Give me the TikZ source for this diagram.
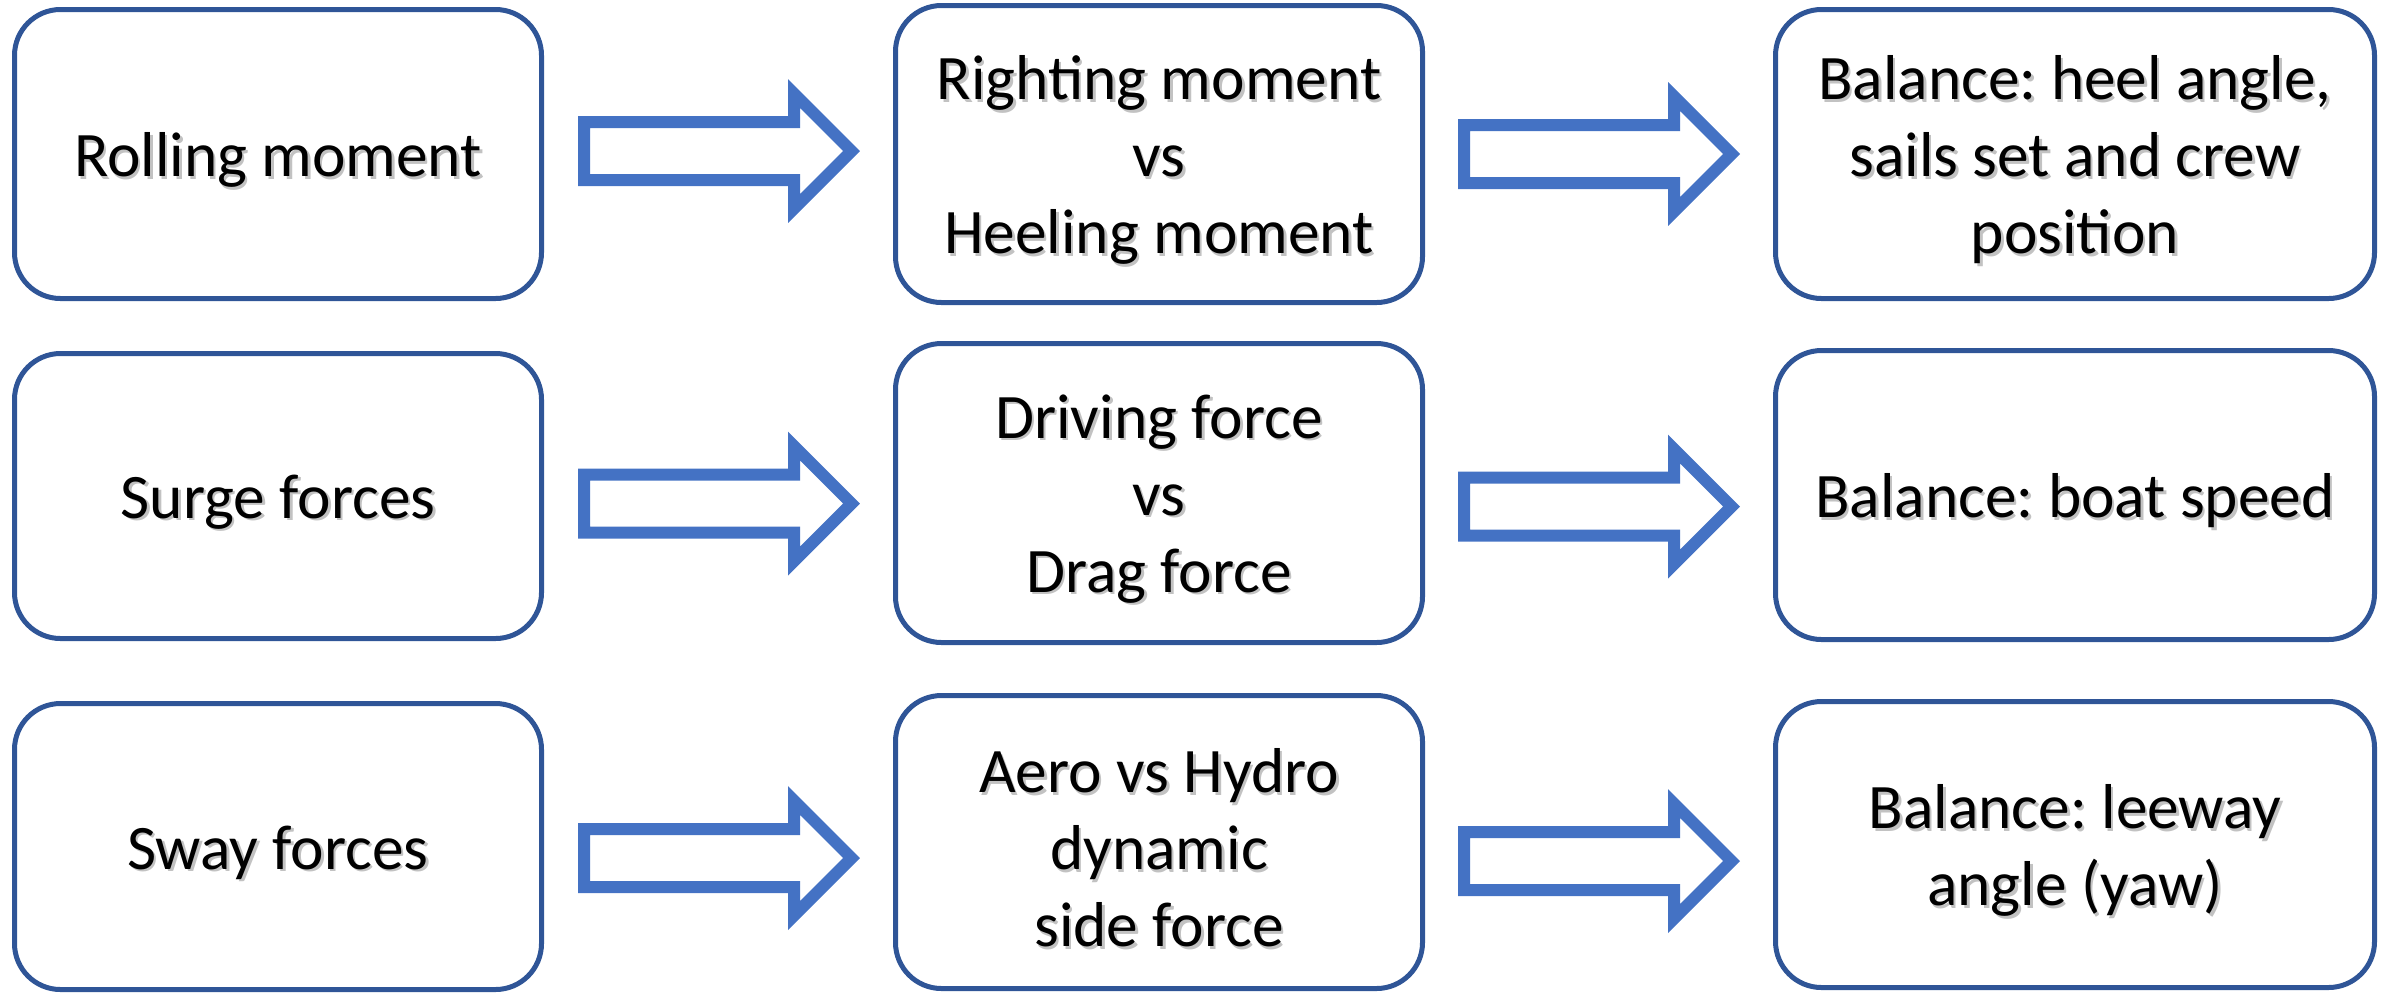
\documentclass[tikz,border=0pt]{standalone}
\usepackage{fontspec}
\setmainfont{Carlito}
\frenchspacing
\definecolor{boxblue}{HTML}{2F5597}
\definecolor{arrblue}{HTML}{4472C4}
\newcommand\boxnode[6]{%
  \node[box, minimum width=#4, minimum height=#5] (#1) at (#2,#3) {};
  \node[shad] (#1s) at (#2+2.5,#3+8.5) {#6};
  \node[boxtext] (#1t) at (#2,#3+6) {#6};}
\begin{document}
\begin{tikzpicture}[x=0.5pt,y=-0.5pt,
  boxfont/.style={font=\fontsize{31.7pt}{38.5pt}\selectfont},
  box/.style={draw=boxblue, line width=2.5pt, rounded corners=23pt, inner sep=0pt},
  boxtext/.style={align=center, text=black, inner sep=0pt, boxfont},
  shad/.style={align=center, text=black!40, text opacity=.6, inner sep=0pt, boxfont},
  arrowline/.style={draw=arrblue, line width=6pt, fill=white, line join=miter},
  fatarrow/.pic={\draw[arrowline] (-134.5,-29) -- (75.5,-29) -- (75.5,-57.5) -- (133,0) -- (75.5,57.5) -- (75.5,29) -- (-134.5,29) -- cycle;}
]
\useasboundingbox (0,0) rectangle (2391,993);
% column 1
\boxnode{b11}{278}{154}{263.5pt}{144.5pt}{Rolling moment}
\boxnode{b21}{278}{496}{263.5pt}{142.5pt}{Surge forces}
\boxnode{b31}{278}{846.5}{263.5pt}{143pt}{Sway forces}
% column 2
\boxnode{b12}{1159}{154}{263.5pt}{148.5pt}{Righting moment\\vs\\Heeling moment}
\boxnode{b22}{1159}{493}{263.5pt}{149.5pt}{Driving force\\vs\\Drag force}
\boxnode{b32}{1159}{842}{263.5pt}{146.5pt}{Aero vs Hydro\\dynamic\\side force}
% column 3
\boxnode{b13}{2075}{154}{299.5pt}{144.5pt}{Balance: heel angle,\\sails set and crew\\position}
\boxnode{b23}{2075}{495}{299.5pt}{144.5pt}{Balance: boat speed}
\boxnode{b33}{2075}{844.5}{299.5pt}{143pt}{Balance: leeway\\angle (yaw)}
% arrows
\coordinate (a11) at (718.5,151);
\coordinate (a12) at (1598.5,154);
\coordinate (a21) at (718.5,503.5);
\coordinate (a22) at (1598.5,506.5);
\coordinate (a31) at (718.5,858);
\coordinate (a32) at (1598.5,861);
\foreach \a in {a11,a12,a21,a22,a31,a32}{\pic at (\a) {fatarrow};}
\end{tikzpicture}
\end{document}
